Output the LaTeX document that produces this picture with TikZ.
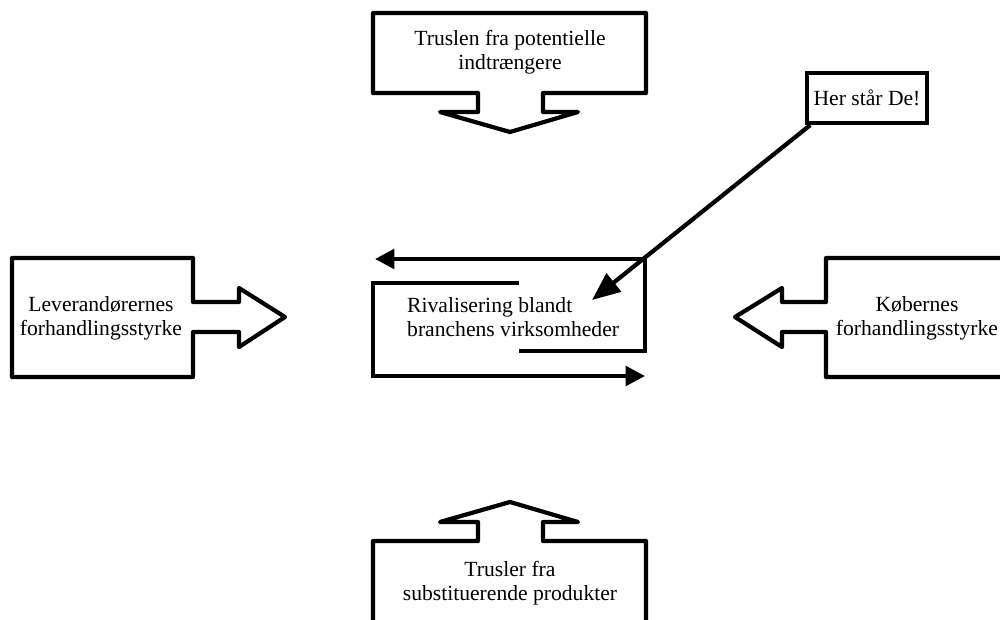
\documentclass[tikz,border=0pt]{standalone}
\usepackage{fontspec}
\setmainfont{Liberation Serif}
\usetikzlibrary{arrows.meta}

\tikzset{
  force/.style={line width=2.4pt, line join=round},
  label/.style={align=center, font=\fontsize{12.3}{13.5}\selectfont},
  ring/.style={line width=2.4pt, -{Triangle[length=11pt,width=11pt]}},
  ptr/.style={line width=2.4pt, -{Triangle[length=16pt,width=13pt]}}
}

\begin{document}
\begin{tikzpicture}[x=0.02cm,y=-0.02cm]
    \useasboundingbox (0,0) rectangle (1000,619);

    % top: new entrants
    \draw[force] (373,13) -- (646,13) -- (646,93) -- (543,93) -- (543,112) -- (578,112)
      -- (510,132) -- (440,112) -- (478,112) -- (478,93) -- (373,93) -- cycle;
    \node[label] (entrants) at (510,52) {Truslen fra potentielle\\indtrængere};

    % left: suppliers
    \draw[force] (12,258) -- (193,258) -- (193,302) -- (239,302) -- (239,288) -- (285,317)
      -- (239,347) -- (239,332) -- (193,332) -- (193,377) -- (12,377) -- cycle;
    \node[label] (suppliers) at (101,318) {Leverandørernes\\forhandlingsstyrke};

    % right: buyers
    \draw[force] (1010,258) -- (826,258) -- (826,302) -- (782,302) -- (782,288) -- (735,317)
      -- (782,347) -- (782,332) -- (826,332) -- (826,377) -- (1010,377);
    \node[label] (buyers) at (917,318) {Købernes\\forhandlingsstyrke};

    % bottom: substitutes
    \draw[force] (373,630) -- (373,541) -- (478,541) -- (478,522) -- (440,522) -- (510,502)
      -- (578,522) -- (543,522) -- (543,541) -- (646,541) -- (646,630);
    \node[label] (substitutes) at (510,583) {Trusler fra\\substituerende produkter};

    % centre: rivalry
    \node[label, align=left, anchor=west] (rivalry) at (401,317) {Rivalisering blandt\\branchens virksomheder};
    \draw[ring] (519,351) -- (645,351) -- (645,259) -- (375,259);
    \draw[ring] (519,283) -- (373,283) -- (373,376) -- (645,376);

    % you are here
    \node[label, draw, line width=2.4pt, minimum width=2.4cm, minimum height=1cm] (here) at (867,98) {Her står De!};
    \coordinate (tip) at (592,300);
    \draw[ptr] ([xshift=3pt]here.south west) -- (tip);
\end{tikzpicture}
\end{document}
